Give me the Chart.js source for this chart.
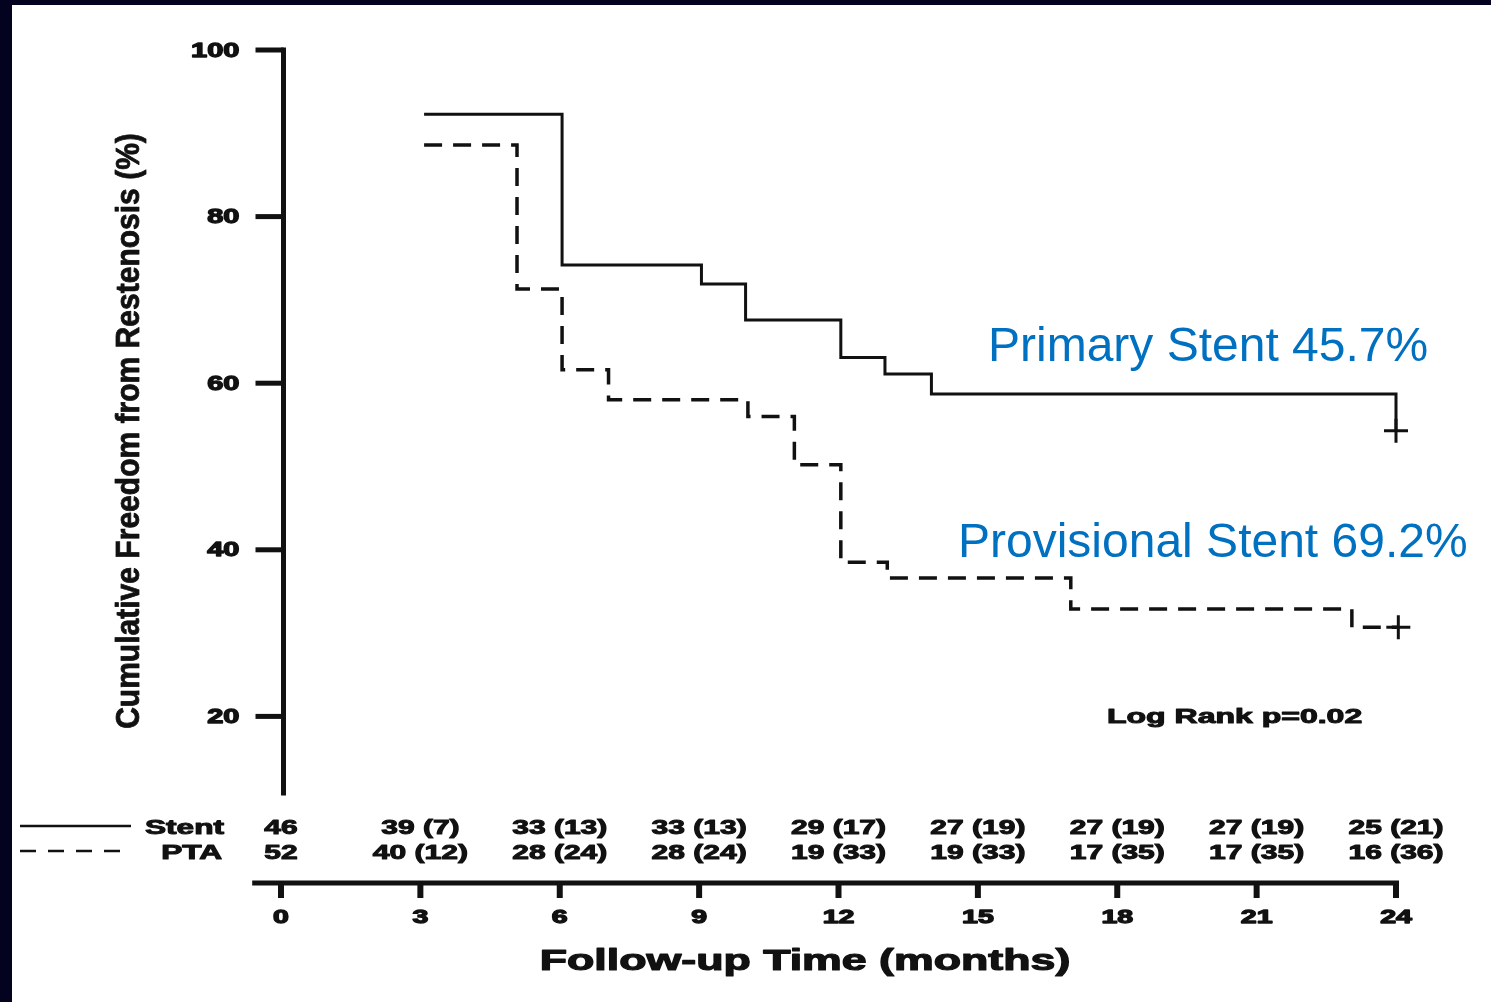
<!DOCTYPE html>
<html>
<head>
<meta charset="utf-8">
<script src="https://cdn.jsdelivr.net/npm/chart.js@4.4.1/dist/chart.umd.min.js"></script>
<style>
  html, body { margin: 0; padding: 0; background: #ffffff; }
  canvas { display: block; }
</style>
</head>
<body>
<canvas id="c" width="1491" height="1002"></canvas>
<script>
// ---- Data ----
const stentTimes = [3.08, 6.05, 9.05, 10.0, 12.05, 13.0, 14.0, 24.0, 24.0];
const stentSurv  = [92.3, 74.2, 71.9, 67.6, 63.1, 61.1, 58.7, 58.7, 54.3];
const ptaTimes   = [3.08, 5.08, 6.05, 7.05, 10.05, 11.05, 12.05, 13.05, 17.0, 23.05, 24.05];
const ptaSurv    = [88.6, 71.3, 61.6, 58.0, 56.0, 50.2, 38.5, 36.6, 32.9, 30.7, 30.7];

const xTickMonths = [0, 3, 6, 9, 12, 15, 18, 21, 24];
const yTickValues = [20, 40, 60, 80, 100];

const stentAtRisk  = [46, 39, 33, 33, 29, 27, 27, 27, 25];
const stentEvents  = [null, 7, 13, 13, 17, 19, 19, 19, 21];
const ptaAtRisk    = [52, 40, 28, 28, 19, 19, 17, 17, 16];
const ptaEvents    = [null, 12, 24, 24, 33, 33, 35, 35, 36];

const groupLabels = ['Stent', 'PTA'];
const xTitle = 'Follow-up Time (months)';
const yTitle = 'Cumulative Freedom from Restenosis (%)';
const annPrimary = 'Primary Stent 45.7%';
const annProvisional = 'Provisional Stent 69.2%';
const logRank = 'Log Rank p=0.02';

const INK = '#111111';
const NAVY = '#03031f';
const BLUE = '#0070c0';

function pts(xs, ys) { return xs.map((x, i) => ({ x: x, y: ys[i] })); }
function lastOnly(n, r) { return ctx => (ctx.dataIndex === n - 1 ? r : 0); }
function atRiskText(n, e) { return e === null ? String(n) : n + ' (' + e + ')'; }

function stretchText(ctx, text, x, y, sx, align, heavy) {
  ctx.save();
  ctx.translate(x, y);
  ctx.scale(sx, 1);
  ctx.textAlign = align;
  if (heavy) {
    ctx.lineWidth = heavy;
    ctx.lineJoin = 'round';
    ctx.strokeStyle = ctx.fillStyle;
    ctx.strokeText(text, 0, 0);
  }
  ctx.fillText(text, 0, 0);
  ctx.restore();
}

const decor = {
  id: 'decor',
  beforeDraw(chart) {
    const ctx = chart.ctx;
    ctx.save();
    ctx.fillStyle = '#ffffff';
    ctx.fillRect(0, 0, chart.width, chart.height);
    ctx.fillStyle = NAVY;
    ctx.fillRect(0, 0, chart.width, 5);
    ctx.fillRect(0, 0, 12, chart.height);
    ctx.restore();
  },
  afterDraw(chart) {
    const ctx = chart.ctx;
    const xs = chart.scales.x, ys = chart.scales.y;
    ctx.save();
    ctx.fillStyle = INK;
    ctx.strokeStyle = INK;

    // Y axis
    const yAxisX = xs.getPixelForValue(0) + 2.5;
    ctx.lineWidth = 5;
    ctx.lineCap = 'butt';
    ctx.beginPath();
    ctx.moveTo(yAxisX, ys.getPixelForValue(100) - 2.5);
    ctx.lineTo(yAxisX, ys.getPixelForValue(10.5));
    ctx.stroke();
    ctx.font = 'bold 20px "Liberation Sans", Arial, sans-serif';
    ctx.textBaseline = 'middle';
    yTickValues.forEach(v => {
      const py = ys.getPixelForValue(v);
      ctx.lineWidth = 5;
      ctx.beginPath();
      ctx.moveTo(yAxisX - 28, py);
      ctx.lineTo(yAxisX, py);
      ctx.stroke();
      stretchText(ctx, String(v), yAxisX - 44, py + 1, 1.45, 'right', 1.3);
    });

    // Y title (rotated)
    ctx.save();
    ctx.translate(130, 431);
    ctx.rotate(-Math.PI / 2);
    ctx.font = 'bold 33px "Liberation Sans", Arial, sans-serif';
    ctx.textBaseline = 'middle';
    stretchText(ctx, yTitle, 0, 0, 0.91, 'center', 0.8);
    ctx.restore();

    // X axis (at value 0)
    const xAxisY = ys.getPixelForValue(0);
    ctx.lineWidth = 5;
    ctx.beginPath();
    ctx.moveTo(xs.getPixelForValue(-0.62), xAxisY);
    ctx.lineTo(xs.getPixelForValue(24) + 3, xAxisY);
    ctx.stroke();
    ctx.font = 'bold 19px "Liberation Sans", Arial, sans-serif';
    ctx.textBaseline = 'middle';
    xTickMonths.forEach(m => {
      const px = xs.getPixelForValue(m);
      ctx.lineWidth = 6;
      ctx.beginPath();
      ctx.moveTo(px, xAxisY);
      ctx.lineTo(px, xAxisY + 15);
      ctx.stroke();
      stretchText(ctx, String(m), px, xAxisY + 35, 1.5, 'center', 1.3);
    });
    ctx.font = 'bold 30px "Liberation Sans", Arial, sans-serif';
    stretchText(ctx, xTitle, 805, 962, 1.49, 'center', 1.2);

    // Numbers at risk
    const rowY = [828, 853];
    ctx.font = 'bold 20px "Liberation Sans", Arial, sans-serif';
    ctx.textBaseline = 'middle';
    xTickMonths.forEach((m, i) => {
      const px = xs.getPixelForValue(m);
      stretchText(ctx, atRiskText(stentAtRisk[i], stentEvents[i]), px, rowY[0], 1.5, 'center', 1.0);
      stretchText(ctx, atRiskText(ptaAtRisk[i], ptaEvents[i]), px, rowY[1], 1.5, 'center', 1.0);
    });
    stretchText(ctx, groupLabels[0], 224, rowY[0], 1.58, 'right', 1.0);
    stretchText(ctx, groupLabels[1], 222, rowY[1], 1.58, 'right', 1.0);
    ctx.lineWidth = 2.5;
    ctx.beginPath();
    ctx.moveTo(20, rowY[0] - 2);
    ctx.lineTo(131, rowY[0] - 2);
    ctx.stroke();
    ctx.setLineDash([16, 12]);
    ctx.beginPath();
    ctx.moveTo(20, rowY[1] - 2);
    ctx.lineTo(131, rowY[1] - 2);
    ctx.stroke();
    ctx.setLineDash([]);

    // Log rank
    ctx.font = 'bold 20px "Liberation Sans", Arial, sans-serif';
    stretchText(ctx, logRank, 1107, 717, 1.6, 'left', 1.0);

    // Blue annotations
    ctx.fillStyle = BLUE;
    ctx.textBaseline = 'alphabetic';
    ctx.font = '48px "Liberation Sans", Arial, sans-serif';
    stretchText(ctx, annPrimary, 988, 361, 1.0, 'left', 0);
    stretchText(ctx, annProvisional, 958, 557, 1.0, 'left', 0);
    ctx.restore();
  }
};

new Chart(document.getElementById('c'), {
  type: 'line',
  data: {
    datasets: [
      {
        label: 'Stent',
        data: pts(stentTimes, stentSurv),
        borderColor: INK,
        borderWidth: 3,
        stepped: 'before',
        fill: false,
        pointStyle: 'cross',
        pointRadius: lastOnly(stentTimes.length, 12),
        pointBorderColor: INK,
        pointBorderWidth: 3,
        clip: false
      },
      {
        label: 'PTA',
        data: pts(ptaTimes, ptaSurv),
        borderColor: INK,
        borderWidth: 3.5,
        borderDash: [18, 11],
        stepped: 'before',
        fill: false,
        pointStyle: 'cross',
        pointRadius: lastOnly(ptaTimes.length, 12),
        pointBorderColor: INK,
        pointBorderWidth: 3,
        clip: false
      }
    ]
  },
  options: {
    responsive: false,
    animation: false,
    devicePixelRatio: 1,
    layout: { padding: { left: 281, right: 95, top: 50, bottom: 119 } },
    scales: {
      x: { type: 'linear', min: 0, max: 24, display: false },
      y: { type: 'linear', min: 0, max: 100, display: false }
    },
    plugins: { legend: { display: false }, tooltip: { enabled: false }, title: { display: false } }
  },
  plugins: [decor]
});
</script>
</body>
</html>
